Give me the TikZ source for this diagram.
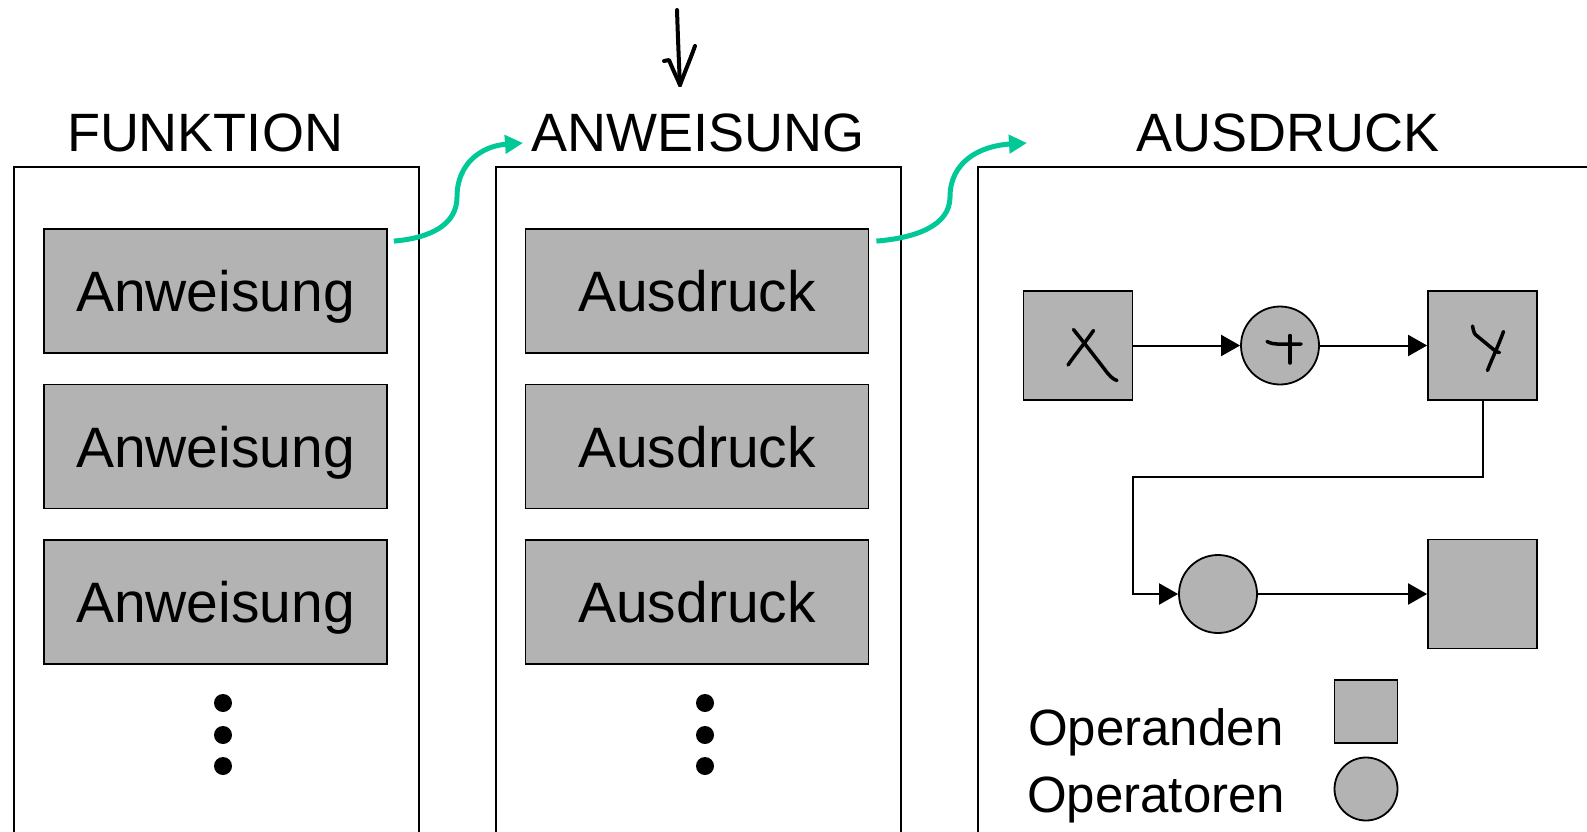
\documentclass[tikz,border=0pt]{standalone}
\usepackage{fontspec}
\setmainfont{Liberation Sans}
\usetikzlibrary{arrows.meta}
\definecolor{boxgray}{RGB}{179,179,179}
\definecolor{flowgreen}{RGB}{0,200,150}

\begin{document}
\begin{tikzpicture}[x=1pt,y=-1pt,
  panel/.style={draw=black, line width=2pt, rectangle, anchor=north west, inner sep=0pt},
  stmt/.style={draw=black, line width=1.8pt, fill=boxgray, rectangle,
    minimum width=343pt, minimum height=124pt, inner sep=0pt,
    font=\fontsize{57}{60}\selectfont, text height=41pt, text depth=0pt},
  title/.style={anchor=base, inner sep=0pt, font=\fontsize{54}{58}\selectfont},
  operand/.style={draw=black, line width=1.8pt, fill=boxgray, rectangle, minimum size=109pt, inner sep=0pt},
  operator/.style={draw=black, line width=1.8pt, fill=boxgray, circle, minimum size=78pt, inner sep=0pt},
  dot/.style={fill=black, circle, minimum size=18pt, inner sep=0pt},
  flow/.style={draw=black, line width=2pt, -{Triangle[length=19pt,width=21pt]}},
  jump/.style={draw=flowgreen, line width=5pt, -{Triangle[length=18pt,width=18pt]}},
  hand/.style={draw=black, line width=3.5pt, line cap=round, line join=round},
  legend/.style={anchor=base west, inner sep=0pt, font=\fontsize{51}{55}\selectfont},
]
\useasboundingbox (0,0) rectangle (1587,832);
\clip (0,0) rectangle (1587,832);

% three panels, open towards the bottom (and the right one towards the right)
\node[panel, minimum width=405pt, minimum height=720pt] (fun) at (13,166) {};
\node[panel, minimum width=405pt, minimum height=720pt] (anw) at (495,166) {};
\node[panel, minimum width=720pt, minimum height=720pt] (aus) at (977,166) {};

% panel titles
\node[title] (tf) at (205,151) {FUNKTION};
\node[title] (ta) at (698,151) {ANWEISUNG};
\node[title] (tu) at (1288,151) {AUSDRUCK};

% statements of a function
\node[stmt] (f1) at (215.5,291) {Anweisung};
\node[stmt] (f2) at (215.5,446.5) {Anweisung};
\node[stmt] (f3) at (215.5,602) {Anweisung};
\node[dot] (fd1) at (223,703) {};
\node[dot] (fd2) at (223,735) {};
\node[dot] (fd3) at (223,766) {};

% expressions of a statement
\node[stmt] (a1) at (697,291) {Ausdruck};
\node[stmt] (a2) at (697,446.5) {Ausdruck};
\node[stmt] (a3) at (697,602) {Ausdruck};
\node[dot] (ad1) at (705,703) {};
\node[dot] (ad2) at (705,735) {};
\node[dot] (ad3) at (705,766) {};

% expression graph
\node[operand] (x) at (1078,345.5) {};
\node[operator] (plus) at (1280,345.5) {};
\node[operand] (y) at (1482.5,345.5) {};
\node[operator] (op) at (1218,594) {};
\node[operand] (res) at (1482.5,594) {};
\coordinate (bend) at (1133,477);

\draw[flow] (x) -- (plus);
\draw[flow] (plus) -- (y);
\draw[flow] (y.south) |- (bend) |- (op.west);
\draw[flow] (op) -- (res);

% handwritten symbols
\begin{scope}[shift={(x.center)}]
  \draw[hand] (-4.5,-16) .. controls (5,-4) and (16,10) .. (26,23)
              .. controls (31,30) and (35,34) .. (39,35);
  \draw[hand] (15.5,-15) .. controls (8,-4) and (-2,8) .. (-10,19.5);
\end{scope}
\begin{scope}[shift={(plus.center)}]
  \draw[hand] (-13,-4) .. controls (-9,-2) and (-6,-1.5) .. (-3,-1.5) -- (21,-1.5);
  \draw[hand] (10,-10) -- (10,17.5);
\end{scope}
\begin{scope}[shift={(y.center)}]
  \draw[hand] (-10,-19.5) .. controls (-9,-14) and (-8,-11) .. (-6,-10)
              -- (11,4) .. controls (13,6) and (15,7) .. (17,7);
  \draw[hand] (21,-14) .. controls (16,0) and (10,12) .. (5,25);
\end{scope}

% legend
\node[legend] (lop) at (1028,745) {Operanden};
\node[legend] (lor) at (1027,812) {Operatoren};
\node[operand, minimum size=63pt] (legsq) at (1366,711.5) {};
\node[operator, minimum size=63pt] (legci) at (1366,789) {};

% refinement arrows
\coordinate (j1) at (523,143);
\coordinate (j2) at (1027,143);
\draw[jump] ([shift={(6,13)}]f1.north east) .. controls (430,238) and (457,225) .. (457,197)
            .. controls (457,163) and (482,146) .. (j1);
\draw[jump] ([shift={(7,13)}]a1.north east) .. controls (915,238) and (950,226) .. (950,197)
            .. controls (950,163) and (978,146) .. (j2);

% hand-drawn pointer to the statement level
\coordinate (cue) at (677,10);
\coordinate (cuetip) at (680,85);
\draw[hand, line width=4pt] (cue) .. controls (678,40) and (679,65) .. (cuetip);
\draw[hand, line width=4pt] (664,61) -- (669,60) .. controls (673,70) and (677,78) .. (cuetip);
\draw[hand, line width=4pt] (695,46) .. controls (690,60) and (684,74) .. (cuetip);
\end{tikzpicture}
\end{document}
